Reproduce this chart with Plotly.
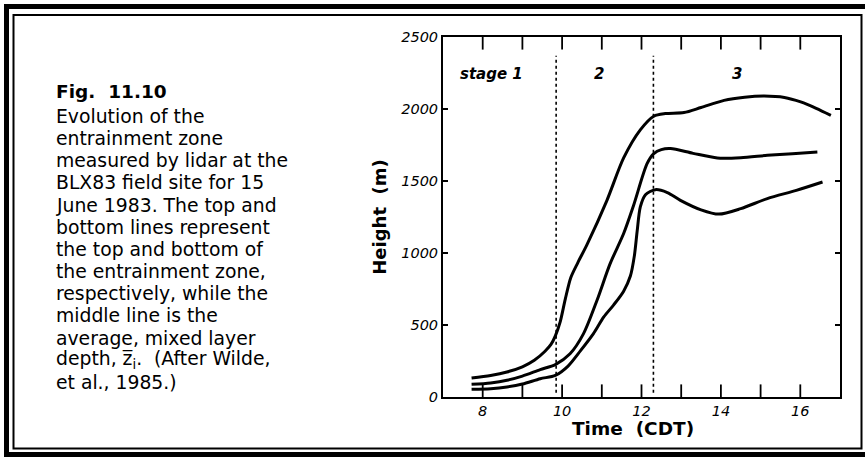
import plotly.graph_objects as go

# ---- data ----
top_t = [7.72, 8.2, 8.61, 9.0, 9.3, 9.57, 9.72, 9.83, 9.95, 10.08, 10.22, 10.40, 10.63, 11.13, 11.55, 11.97, 12.31, 12.6, 13.07, 13.5, 14.08, 14.6, 15.09, 15.6, 16.01, 16.4, 16.77]
top_h = [132, 150, 174, 210, 255, 318, 365, 425, 520, 680, 830, 935, 1060, 1366, 1660, 1855, 1950, 1968, 1975, 2010, 2060, 2082, 2090, 2080, 2049, 2005, 1956]

mid_t = [7.72, 8.2, 8.61, 9.0, 9.45, 9.83, 10.2, 10.54, 10.88, 11.21, 11.55, 11.80, 12.14, 12.31, 12.5, 12.73, 13.3, 13.91, 14.5, 15.17, 15.8, 16.43]
mid_h = [88, 98, 116, 145, 190, 225, 300, 440, 672, 926, 1135, 1330, 1620, 1690, 1718, 1725, 1692, 1660, 1662, 1678, 1690, 1701]

bot_t = [7.72, 8.2, 8.61, 9.0, 9.45, 9.83, 10.15, 10.46, 10.79, 11.05, 11.30, 11.55, 11.72, 11.82, 11.89, 11.97, 12.10, 12.35, 12.65, 12.98, 13.5, 13.95, 14.5, 15.17, 15.9, 16.56]
bot_h = [53, 58, 70, 90, 127, 150, 215, 320, 440, 556, 640, 735, 840, 980, 1150, 1320, 1405, 1440, 1420, 1366, 1300, 1270, 1308, 1378, 1435, 1493]

stage_bounds = [9.85, 12.3]
stage_labels = ["stage 1", "2", "3"]
stage_label_x = [8.22, 10.92, 14.41]
stage_label_y = 2246

x_range = [7, 17]
y_range = [0, 2500]
x_tickvals = [8, 10, 12, 14, 16]
x_hour_ticks = [8, 9, 10, 11, 12, 13, 14, 15, 16]
y_tickvals = [0, 500, 1000, 1500, 2000, 2500]

x_title = "Time\u00a0 (CDT)"
y_title = "Height\u00a0 (m)"
caption_title = "Fig.\u00a0 11.10"
caption_lines = [
    "Evolution of the",
    "entrainment zone",
    "measured by lidar at the",
    "BLX83 field site for 15",
    "June 1983. The top and",
    "bottom lines represent",
    "the top and bottom of",
    "the entrainment zone,",
    "respectively, while the",
    "middle line is the",
    "average, mixed layer",
    "depth, z\u0305<sub>i</sub>.\u00a0 (After Wilde,",
    "et al., 1985.)",
]

# ---- layout geometry (pixels) ----
W, H = 865, 460
ML, MR, MT, MB = 443, 25, 37, 63
PW, PH = W - ML - MR, H - MT - MB


def px(p):
    return (p - ML) / PW


def py(p):
    return (H - MB - p) / PH


fig = go.Figure()
line_style = dict(color="black", width=3, shape="spline", smoothing=0.8)
for t, h, name in [(top_t, top_h, "top"), (mid_t, mid_h, "mean"), (bot_t, bot_h, "bottom")]:
    fig.add_trace(go.Scatter(x=t, y=h, mode="lines", line=line_style, name=name,
                             showlegend=False, hoverinfo="skip"))

# hourly inside tick marks on the bottom and top frame edges (half of each marker is clipped away)
for yedge in y_range:
    fig.add_trace(go.Scatter(x=x_hour_ticks, y=[yedge] * len(x_hour_ticks), mode="markers",
                             marker=dict(symbol="line-ns", size=18, color="black",
                                         line=dict(color="black", width=1.8)),
                             cliponaxis=True, showlegend=False, hoverinfo="skip"))

shapes = []
for xb in stage_bounds:
    shapes.append(dict(type="line", xref="x", yref="y", x0=xb, x1=xb, y0=30, y1=2370,
                       line=dict(color="black", width=1.6, dash="dot")))
# frame
shapes.append(dict(type="rect", xref="paper", yref="paper",
                   x0=px(6.5), x1=px(874), y0=py(454.5), y1=py(6.5),
                   line=dict(color="black", width=5)))
shapes.append(dict(type="rect", xref="paper", yref="paper",
                   x0=px(13.5), x1=px(861.5), y0=py(448.5), y1=py(15),
                   line=dict(color="black", width=2)))

annotations = []
for lab, lx in zip(stage_labels, stage_label_x):
    annotations.append(dict(x=lx, y=stage_label_y, xref="x", yref="y", text=lab, showarrow=False,
                            font=dict(family="DejaVu Sans", size=15, color="black",
                                      weight="bold", style="italic")))
annotations.append(dict(x=px(54), y=py(91), xref="paper", yref="paper", xanchor="left",
                        yanchor="middle", text=caption_title, showarrow=False, align="left",
                        font=dict(family="DejaVu Sans", size=18.5, color="black", weight="bold")))
for i, ln in enumerate(caption_lines):
    annotations.append(dict(x=px(54), y=py(116.5 + 22.15 * i), xref="paper", yref="paper",
                            xanchor="left", yanchor="middle", text=ln, showarrow=False,
                            align="left",
                            font=dict(family="DejaVu Sans", size=18.8, color="black")))
annotations.append(dict(x=px(633), y=py(429), xref="paper", yref="paper", xanchor="center",
                        yanchor="middle", text=x_title, showarrow=False,
                        font=dict(family="DejaVu Sans", size=18.5, color="black", weight="bold")))

tickfont = dict(family="DejaVu Sans", size=14.5, color="black", style="italic")
fig.update_layout(
    width=W, height=H,
    margin=dict(l=ML, r=MR, t=MT, b=MB),
    paper_bgcolor="white", plot_bgcolor="white",
    shapes=shapes, annotations=annotations,
    xaxis=dict(range=x_range, tickvals=x_tickvals, ticks="", showline=True, linecolor="black",
               linewidth=2, mirror=True, tickfont=tickfont, showgrid=False, zeroline=False),
    yaxis=dict(range=y_range, tickvals=y_tickvals, ticks="inside", ticklen=5, tickwidth=1.5,
               tickcolor="black", showline=True, linecolor="black", linewidth=2, mirror="ticks",
               showgrid=False, zeroline=False, tickfont=tickfont,
               title=dict(text=y_title, standoff=10,
                          font=dict(family="DejaVu Sans", size=18, color="black", weight="bold"))),
)

fig.write_html("out.html", config={"displayModeBar": False},
               post_script="document.body.style.margin='0';")
